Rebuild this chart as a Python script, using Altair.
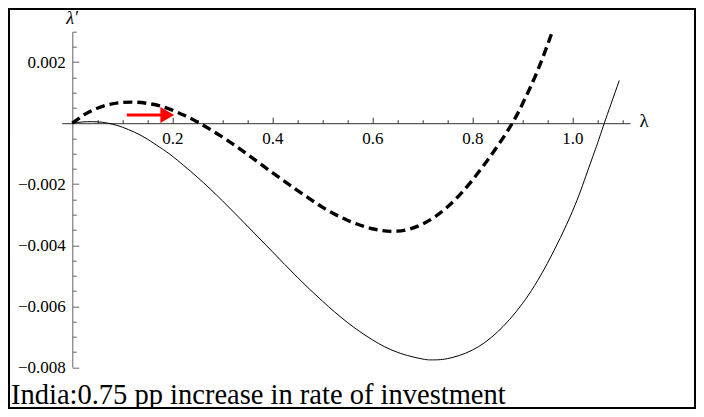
import altair as alt
import pandas as pd

# ---- data ----
solid_lam = [0, 0.02, 0.04, 0.06, 0.08, 0.10, 0.125, 0.15, 0.175, 0.2, 0.25, 0.3, 0.35,
             0.4, 0.45, 0.5, 0.55, 0.6, 0.65, 0.7, 0.72, 0.75, 0.8, 0.85, 0.9, 0.95, 1.0,
             1.03, 1.05, 1.064, 1.094]
solid_val = [0, 0.00004, 0.00005, 0.00003, -0.00003, -0.00013, -0.0003, -0.00052, -0.00079,
             -0.00108, -0.00177, -0.00254, -0.00337, -0.00421, -0.00505, -0.00583, -0.00653,
             -0.00710, -0.00751, -0.00773, -0.00776, -0.00772, -0.00744, -0.00685, -0.00592,
             -0.00460, -0.00290, -0.00160, -0.00068, 0.0, 0.00140]

dash_lam = [0, 0.025, 0.05, 0.075, 0.1, 0.125, 0.15, 0.175, 0.2, 0.225, 0.25, 0.3, 0.35,
            0.4, 0.45, 0.5, 0.55, 0.6, 0.65, 0.7, 0.75, 0.8, 0.85, 0.88, 0.9, 0.93, 0.96]
dash_val = [0, 0.00029, 0.00049, 0.00062, 0.00068, 0.00069, 0.00065, 0.00057, 0.00043,
            0.00025, 0.00004, -0.00045, -0.00102, -0.00162, -0.00220, -0.00275, -0.00318,
            -0.00346, -0.00354, -0.00331, -0.00275, -0.00187, -0.00076, 0.0, 0.00062,
            0.00170, 0.00300]

arrow_start = [0.109]
arrow_head = [0.190]
arrow_level = [0.00027]

x_major_ticks = [0.2, 0.4, 0.6, 0.8, 1.0]
x_minor_ticks = [0.05, 0.1, 0.15, 0.25, 0.3, 0.35, 0.45, 0.5, 0.55, 0.65, 0.7, 0.75,
                 0.85, 0.9, 0.95, 1.05, 1.1]
y_major_ticks = [-0.008, -0.006, -0.004, -0.002, 0.002]
y_minor_ticks = [-0.0075, -0.007, -0.0065, -0.0055, -0.005, -0.0045, -0.0035, -0.003,
                 -0.0025, -0.0015, -0.001, -0.0005, 0.0005, 0.001, 0.0015, 0.0025, 0.003]

caption = ["India:0.75 pp increase in rate of investment"]
x_title = "λ"
y_title = "λ′"

# ---- layout ----
W, H = 568.3, 335.5
XDOM = [-0.0212, 1.1154]
YDOM = [-0.008, 0.003]
zero_y = H * YDOM[1] / (YDOM[1] - YDOM[0])
zero_x = W * (0 - XDOM[0]) / (XDOM[1] - XDOM[0])
SERIF = "Liberation Serif"

x_scale = alt.Scale(domain=XDOM, nice=False, zero=False)
y_scale = alt.Scale(domain=YDOM, nice=False, zero=False)

x_axis_major = alt.Axis(
    orient="top", offset=-zero_y, values=x_major_ticks, grid=False, format=".1f",
    domainColor="#333333", tickColor="#333333", tickWidth=1, tickSize=6,
    labelBaseline="alphabetic", labelPadding=-26, labelFont=SERIF, labelFontSize=17,
    labelColor="black", labelOverlap=False, labelBound=False, labelFlush=False,
    title=x_title, titleX=581.8, titleY=-2.3, titleAngle=0, titleAlign="center",
    titleBaseline="middle", titleFont=SERIF, titleFontSize=19, titleFontWeight="normal",
    titleColor="black",
)
x_axis_minor = alt.Axis(
    orient="top", offset=-zero_y, values=x_minor_ticks, grid=False, labels=False,
    domain=False, tickColor="#333333", tickWidth=1, tickSize=3.5, title="",
)
y_axis_major = alt.Axis(
    orient="right", offset=-(W - zero_x), values=y_major_ticks, grid=False, format=".3f",
    domainColor="#666666", tickColor="#666666", tickWidth=1, tickSize=6.5,
    labelAlign="right", labelBaseline="middle", labelPadding=-13.5,
    labelFont=SERIF, labelFontSize=17, labelColor="black",
    labelOverlap=False, labelBound=False, labelFlush=False,
    title=y_title, titleX=-0.8, titleY=-13.2, titleAngle=0, titleAlign="center",
    titleBaseline="middle", titleFont=SERIF, titleFontSize=18, titleFontStyle="italic",
    titleFontWeight="normal", titleColor="black",
)
y_axis_minor = alt.Axis(
    orient="right", offset=-(W - zero_x), values=y_minor_ticks, grid=False, labels=False,
    domain=False, tickColor="#666666", tickWidth=1, tickSize=4, title="",
)

solid_df = pd.DataFrame({"lam": solid_lam, "val": solid_val})
dash_df = pd.DataFrame({"lam": dash_lam, "val": dash_val})
arrow_df = pd.DataFrame({"x0": arrow_start, "x1": arrow_head, "y": arrow_level})

solid = alt.Chart(solid_df).mark_line(
    color="black", strokeWidth=1, interpolate="natural"
).encode(
    x=alt.X("lam:Q", scale=x_scale, axis=x_axis_major),
    y=alt.Y("val:Q", scale=y_scale, axis=y_axis_major),
)

dashed = alt.Chart(dash_df).mark_line(
    color="black", strokeWidth=3.4, strokeDash=[9, 5], interpolate="natural"
).encode(
    x=alt.X("lam:Q", scale=x_scale, axis=x_axis_minor),
    y=alt.Y("val:Q", scale=y_scale, axis=y_axis_minor),
)

shaft = alt.Chart(arrow_df).mark_rule(color="#ff0000", strokeWidth=3).encode(
    x=alt.X("x0:Q", scale=x_scale, axis=None),
    x2="x1:Q",
    y=alt.Y("y:Q", scale=y_scale, axis=None),
)
head = alt.Chart(arrow_df).mark_point(
    shape="triangle-right", filled=True, color="#ff0000", size=256, opacity=1
).encode(
    x=alt.X("x1:Q", scale=x_scale, axis=None),
    y=alt.Y("y:Q", scale=y_scale, axis=None),
)

frame = alt.Chart(pd.DataFrame({"k": [0]})).mark_rect(
    fill="transparent", stroke="black", strokeWidth=2
).encode(
    x=alt.value(-52.7), x2=alt.value(633.3), y=alt.value(-22.7), y2=alt.value(376.3)
)

text = alt.Chart(pd.DataFrame({"t": caption})).mark_text(
    align="left", baseline="alphabetic", font=SERIF, fontSize=28.5, color="black"
).encode(
    x=alt.value(-50.7), y=alt.value(371.8), text="t:N"
)

chart = alt.layer(solid, dashed, shaft, head, frame, text).resolve_axis(
    x="independent", y="independent"
).properties(
    width=W, height=H,
    autosize=alt.AutoSizeParams(type="none"),
    padding={"left": 53.7, "top": 23.7, "right": 66, "bottom": 41.8},
).configure(background="white").configure_view(strokeWidth=0, stroke="transparent")

chart.save("out.html", embed_options={"renderer": "svg", "actions": False})
